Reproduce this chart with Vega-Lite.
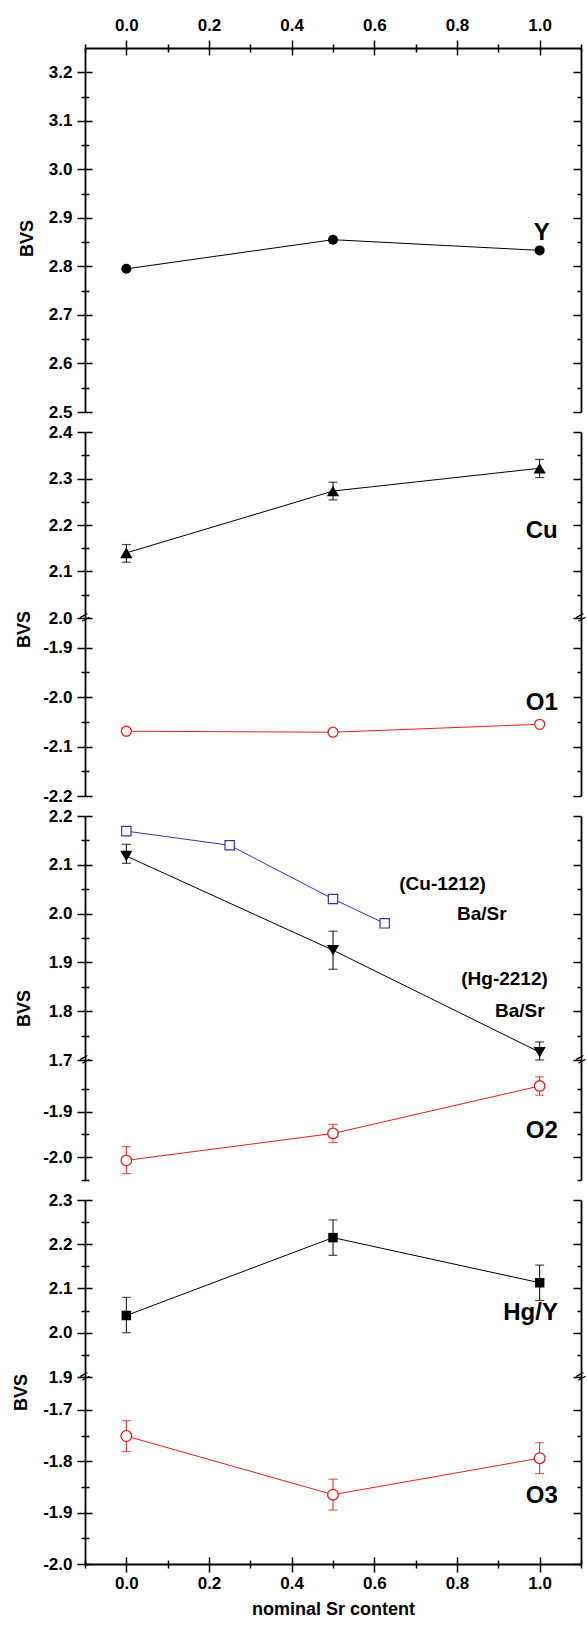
{
"$schema": "https://vega.github.io/schema/vega-lite/v6.json",
"padding": {"left": 12, "top": 16, "right": 0, "bottom": 0},
"background": "white",
"datasets": {
 "Y": [{"x":0,"y":2.795},{"x":0.5,"y":2.855},{"x":1,"y":2.833}],
 "Cu": [{"x":0,"y":2.14,"lo":2.12,"hi":2.158},{"x":0.5,"y":2.273,"lo":2.254,"hi":2.292},{"x":1,"y":2.322,"lo":2.302,"hi":2.341}],
 "O1": [{"x":0,"y":-2.069,"lo":-2.075,"hi":-2.063},{"x":0.5,"y":-2.071,"lo":-2.077,"hi":-2.065},{"x":1,"y":-2.055,"lo":-2.061,"hi":-2.049}],
 "Hg2212": [{"x":0,"y":2.118,"lo":2.103,"hi":2.142},{"x":0.5,"y":1.925,"lo":1.886,"hi":1.964},{"x":1,"y":1.716,"lo":1.7,"hi":1.737}],
 "Cu1212": [{"x":0,"y":2.169},{"x":0.25,"y":2.14},{"x":0.5,"y":2.03},{"x":0.625,"y":1.98}],
 "O2": [{"x":0,"y":-2.007,"lo":-2.036,"hi":-1.977},{"x":0.5,"y":-1.948,"lo":-1.968,"hi":-1.928},{"x":1,"y":-1.844,"lo":-1.864,"hi":-1.824}],
 "HgY": [{"x":0,"y":2.039,"lo":2.0,"hi":2.08},{"x":0.5,"y":2.215,"lo":2.175,"hi":2.255},{"x":1,"y":2.113,"lo":2.073,"hi":2.153}],
 "O3": [{"x":0,"y":-1.751,"lo":-1.781,"hi":-1.721},{"x":0.5,"y":-1.865,"lo":-1.895,"hi":-1.835},{"x":1,"y":-1.794,"lo":-1.824,"hi":-1.764}]
},
"spacing": 0,
"bounds": "flush",
"vconcat": [
 {
  "width": 496, "height": 364,
  "data": {"name": "Y"},
  "encoding": {
   "x": {"field": "x", "type": "quantitative", "scale": {"domain": [-0.1, 1.1], "nice": false, "zero": false}, "axis": null},
   "y": {"field": "y", "type": "quantitative", "scale": {"domain": [2.5, 3.25], "nice": false, "zero": false}, "axis": null}
  },
  "layer": [
   {"layer": [
     {"mark": {"type": "line", "color": "black", "strokeWidth": 1}},
     {"mark": {"type": "point", "shape": "circle", "filled": true, "color": "black", "size": 100, "opacity": 1}},
     {"data": {"values": [{"x": 1.005, "y": 2.868, "t": "Y"}]}, "mark": {"type": "text", "fontSize": 24, "color": "black"}, "encoding": {"text": {"field": "t"}}}
    ]},
   {"mark": {"type": "point", "opacity": 0}, "encoding": {
     "x": {"field": "x", "type": "quantitative", "scale": {"domain": [-0.1, 1.1], "nice": false, "zero": false},
           "axis": {"orient": "top", "values": [-0.1,0,0.1,0.2,0.3,0.4,0.5,0.6,0.7,0.8,0.9,1.0,1.1], "tickSize": {"condition": {"test": "round(datum.value*10)%2!=0", "value": 4}, "value": 8}, "labelExpr": "round(datum.value*10)%2!=0 ? '' : format(datum.value,'.1f')", "labelPadding": 6, "title": null}},
     "y": {"field": "y", "type": "quantitative", "scale": {"domain": [2.5, 3.25], "nice": false, "zero": false},
           "axis": {"orient": "left", "values": [2.5,2.55,2.6,2.65,2.7,2.75,2.8,2.85,2.9,2.95,3.0,3.05,3.1,3.15,3.2], "tickSize": {"condition": {"test": "round(datum.value*100)%10!=0", "value": 4}, "value": 8}, "labelExpr": "round(datum.value*100)%10!=0 ? '' : (datum.value<0 ? '-' : '') + format(abs(datum.value),'.1f')", "labelPadding": 5,
                    "title": "BVS", "titleX": -53, "titleY": 190, "titleBaseline": "alphabetic", "titleAngle": -90, "titleAlign": "center", "titleFontSize": 18}}}},
   {"mark": {"type": "point", "opacity": 0}, "encoding": {
     "x": {"field": "x", "type": "quantitative", "scale": {"domain": [-0.1, 1.1], "nice": false, "zero": false},
           "axis": {"orient": "top", "values": [-0.1,0,0.1,0.2,0.3,0.4,0.5,0.6,0.7,0.8,0.9,1.0,1.1], "tickSize": {"condition": {"test": "round(datum.value*10)%2!=0", "value": -4}, "value": -7}, "labels": false, "domain": false, "title": null}},
     "y": {"field": "y", "type": "quantitative", "scale": {"domain": [2.5, 3.25], "nice": false, "zero": false},
           "axis": {"orient": "left", "values": [2.5,2.55,2.6,2.65,2.7,2.75,2.8,2.85,2.9,2.95,3.0,3.05,3.1,3.15,3.2], "tickSize": {"condition": {"test": "round(datum.value*100)%10!=0", "value": -4}, "value": -7}, "labels": false, "domain": false, "title": null}}}},
   {"mark": {"type": "point", "opacity": 0}, "encoding": {
     "y": {"field": "y", "type": "quantitative", "scale": {"domain": [2.5, 3.25], "nice": false, "zero": false},
           "axis": {"orient": "right", "values": [2.5,2.55,2.6,2.65,2.7,2.75,2.8,2.85,2.9,2.95,3.0,3.05,3.1,3.15,3.2], "tickSize": {"condition": {"test": "round(datum.value*100)%10!=0", "value": -4}, "value": -8}, "labels": false, "title": null}}}}
  ],
  "resolve": {"axis": {"x": "independent", "y": "independent"}}
 },
 {"width": 496, "height": 20, "data": {"name": "Y"}, "mark": {"type": "point", "opacity": 0},
  "encoding": {"x": {"field": "x", "type": "quantitative", "axis": null}, "y": {"field": "y", "type": "quantitative", "axis": null}}},
 {
  "width": 496, "height": 186,
  "data": {"name": "Cu"},
  "encoding": {
   "x": {"field": "x", "type": "quantitative", "scale": {"domain": [-0.1, 1.1], "nice": false, "zero": false}, "axis": null},
   "y": {"field": "y", "type": "quantitative", "scale": {"domain": [2.0, 2.4], "nice": false, "zero": false}, "axis": null}
  },
  "layer": [
   {"layer": [
     {"mark": {"type": "line", "color": "black", "strokeWidth": 1}},
     {"mark": {"type": "rule", "color": "black", "strokeWidth": 1}, "encoding": {"y": {"field": "lo", "type": "quantitative", "axis": null}, "y2": {"field": "hi"}}},
     {"mark": {"type": "tick", "orient": "horizontal", "color": "black", "size": 9, "thickness": 1.2}, "encoding": {"y": {"field": "lo", "type": "quantitative", "axis": null}}},
     {"mark": {"type": "tick", "orient": "horizontal", "color": "black", "size": 9, "thickness": 1.2}, "encoding": {"y": {"field": "hi", "type": "quantitative", "axis": null}}},
     {"mark": {"type": "point", "shape": "triangle-up", "filled": true, "color": "black", "size": 150, "opacity": 1}},
     {"data": {"values": [{"x": 1.005, "y": 2.187, "t": "Cu"}]}, "mark": {"type": "text", "fontSize": 24, "color": "black"}, "encoding": {"text": {"field": "t"}}},
     {"data": {"values": [{"x": -0.1, "y": 2.0, "t": "="}, {"x": 1.1, "y": 2.0, "t": "="}]}, "mark": {"type": "text", "fontSize": 17, "angle": -30, "color": "black", "fontWeight": "normal"}, "encoding": {"text": {"field": "t"}}}
    ]},
   {"mark": {"type": "point", "opacity": 0}, "encoding": {
     "y": {"field": "y", "type": "quantitative", "scale": {"domain": [2.0, 2.4], "nice": false, "zero": false},
           "axis": {"orient": "left", "values": [2.0,2.05,2.1,2.15,2.2,2.25,2.3,2.35,2.4], "tickSize": {"condition": {"test": "round(datum.value*100)%10!=0", "value": 4}, "value": 8}, "labelExpr": "round(datum.value*100)%10!=0 ? '' : (datum.value<0 ? '-' : '') + format(abs(datum.value),'.1f')", "labelPadding": 5,
                    "title": "BVS", "titleX": -56, "titleY": 197, "titleBaseline": "alphabetic", "titleAngle": -90, "titleAlign": "center", "titleFontSize": 18}}}},
   {"mark": {"type": "point", "opacity": 0}, "encoding": {
     "y": {"field": "y", "type": "quantitative", "scale": {"domain": [2.0, 2.4], "nice": false, "zero": false},
           "axis": {"orient": "left", "values": [2.0,2.05,2.1,2.15,2.2,2.25,2.3,2.35,2.4], "tickSize": {"condition": {"test": "round(datum.value*100)%10!=0", "value": -4}, "value": -7}, "labels": false, "domain": false, "title": null}}}},
   {"mark": {"type": "point", "opacity": 0}, "encoding": {
     "y": {"field": "y", "type": "quantitative", "scale": {"domain": [2.0, 2.4], "nice": false, "zero": false},
           "axis": {"orient": "right", "values": [2.0,2.05,2.1,2.15,2.2,2.25,2.3,2.35,2.4], "tickSize": {"condition": {"test": "round(datum.value*100)%10!=0", "value": -4}, "value": -8}, "labels": false, "title": null}}}}
  ],
  "resolve": {"axis": {"x": "independent", "y": "independent"}}
 },
 {
  "width": 496, "height": 178,
  "data": {"name": "O1"},
  "encoding": {
   "x": {"field": "x", "type": "quantitative", "scale": {"domain": [-0.1, 1.1], "nice": false, "zero": false}, "axis": null},
   "y": {"field": "y", "type": "quantitative", "scale": {"domain": [-2.2, -1.84], "nice": false, "zero": false}, "axis": null}
  },
  "layer": [
   {"layer": [
     {"mark": {"type": "line", "color": "#f01818", "strokeWidth": 1}},
     {"mark": {"type": "rule", "color": "#f01818", "strokeWidth": 1}, "encoding": {"y": {"field": "lo", "type": "quantitative", "axis": null}, "y2": {"field": "hi"}}},
     {"mark": {"type": "point", "shape": "circle", "filled": true, "fill": "white", "stroke": "#f01818", "strokeWidth": 1.3, "size": 100, "opacity": 1}},
     {"data": {"values": [{"x": 1.005, "y": -2.011, "t": "O1"}]}, "mark": {"type": "text", "fontSize": 24, "color": "black"}, "encoding": {"text": {"field": "t"}}}
    ]},
   {"mark": {"type": "point", "opacity": 0}, "encoding": {
     "y": {"field": "y", "type": "quantitative", "scale": {"domain": [-2.2, -1.84], "nice": false, "zero": false},
           "axis": {"orient": "left", "values": [-2.2,-2.15,-2.1,-2.05,-2.0,-1.95,-1.9], "tickSize": {"condition": {"test": "round(datum.value*100)%10!=0", "value": 4}, "value": 8}, "labelExpr": "round(datum.value*100)%10!=0 ? '' : (datum.value<0 ? '-' : '') + format(abs(datum.value),'.1f')", "labelPadding": 5, "title": null}}}},
   {"mark": {"type": "point", "opacity": 0}, "encoding": {
     "y": {"field": "y", "type": "quantitative", "scale": {"domain": [-2.2, -1.84], "nice": false, "zero": false},
           "axis": {"orient": "left", "values": [-2.2,-2.15,-2.1,-2.05,-2.0,-1.95,-1.9], "tickSize": {"condition": {"test": "round(datum.value*100)%10!=0", "value": -4}, "value": -7}, "labels": false, "domain": false, "title": null}}}},
   {"mark": {"type": "point", "opacity": 0}, "encoding": {
     "y": {"field": "y", "type": "quantitative", "scale": {"domain": [-2.2, -1.84], "nice": false, "zero": false},
           "axis": {"orient": "right", "values": [-2.2,-2.15,-2.1,-2.05,-2.0,-1.95,-1.9], "tickSize": {"condition": {"test": "round(datum.value*100)%10!=0", "value": -4}, "value": -8}, "labels": false, "title": null}}}}
  ],
  "resolve": {"axis": {"x": "independent", "y": "independent"}}
 },
 {"width": 496, "height": 20, "data": {"name": "Y"}, "mark": {"type": "point", "opacity": 0},
  "encoding": {"x": {"field": "x", "type": "quantitative", "axis": null}, "y": {"field": "y", "type": "quantitative", "axis": null}}},
 {
  "width": 496, "height": 244,
  "data": {"name": "Hg2212"},
  "encoding": {
   "x": {"field": "x", "type": "quantitative", "scale": {"domain": [-0.1, 1.1], "nice": false, "zero": false}, "axis": null},
   "y": {"field": "y", "type": "quantitative", "scale": {"domain": [1.7, 2.2], "nice": false, "zero": false}, "axis": null}
  },
  "layer": [
   {"layer": [
     {"data": {"name": "Cu1212"}, "mark": {"type": "line", "color": "#3535a5", "strokeWidth": 1}},
     {"data": {"name": "Cu1212"}, "mark": {"type": "point", "shape": "square", "filled": true, "fill": "white", "stroke": "#3535a5", "strokeWidth": 1.2, "size": 87, "opacity": 1}},
     {"mark": {"type": "line", "color": "black", "strokeWidth": 1}},
     {"mark": {"type": "rule", "color": "black", "strokeWidth": 1}, "encoding": {"y": {"field": "lo", "type": "quantitative", "axis": null}, "y2": {"field": "hi"}}},
     {"mark": {"type": "tick", "orient": "horizontal", "color": "black", "size": 9, "thickness": 1.2}, "encoding": {"y": {"field": "lo", "type": "quantitative", "axis": null}}},
     {"mark": {"type": "tick", "orient": "horizontal", "color": "black", "size": 9, "thickness": 1.2}, "encoding": {"y": {"field": "hi", "type": "quantitative", "axis": null}}},
     {"mark": {"type": "point", "shape": "triangle-down", "filled": true, "color": "black", "size": 150, "opacity": 1}},
     {"data": {"values": [{"x": 0.765, "y": 2.06, "t": "(Cu-1212)"}, {"x": 0.86, "y": 2.0, "t": "Ba/Sr"}, {"x": 0.915, "y": 1.866, "t": "(Hg-2212)"}, {"x": 0.952, "y": 1.80, "t": "Ba/Sr"}]}, "mark": {"type": "text", "fontSize": 19, "color": "black"}, "encoding": {"text": {"field": "t"}}},
     {"data": {"values": [{"x": -0.1, "y": 1.7, "t": "="}, {"x": 1.1, "y": 1.7, "t": "="}]}, "mark": {"type": "text", "fontSize": 17, "angle": -30, "color": "black", "fontWeight": "normal"}, "encoding": {"text": {"field": "t"}}}
    ]},
   {"mark": {"type": "point", "opacity": 0}, "encoding": {
     "y": {"field": "y", "type": "quantitative", "scale": {"domain": [1.7, 2.2], "nice": false, "zero": false},
           "axis": {"orient": "left", "values": [1.7,1.75,1.8,1.85,1.9,1.95,2.0,2.05,2.1,2.15,2.2], "tickSize": {"condition": {"test": "round(datum.value*100)%10!=0", "value": 4}, "value": 8}, "labelExpr": "round(datum.value*100)%10!=0 ? '' : (datum.value<0 ? '-' : '') + format(abs(datum.value),'.1f')", "labelPadding": 5,
                    "title": "BVS", "titleX": -56, "titleY": 192, "titleBaseline": "alphabetic", "titleAngle": -90, "titleAlign": "center", "titleFontSize": 18}}}},
   {"mark": {"type": "point", "opacity": 0}, "encoding": {
     "y": {"field": "y", "type": "quantitative", "scale": {"domain": [1.7, 2.2], "nice": false, "zero": false},
           "axis": {"orient": "left", "values": [1.7,1.75,1.8,1.85,1.9,1.95,2.0,2.05,2.1,2.15,2.2], "tickSize": {"condition": {"test": "round(datum.value*100)%10!=0", "value": -4}, "value": -7}, "labels": false, "domain": false, "title": null}}}},
   {"mark": {"type": "point", "opacity": 0}, "encoding": {
     "y": {"field": "y", "type": "quantitative", "scale": {"domain": [1.7, 2.2], "nice": false, "zero": false},
           "axis": {"orient": "right", "values": [1.7,1.75,1.8,1.85,1.9,1.95,2.0,2.05,2.1,2.15,2.2], "tickSize": {"condition": {"test": "round(datum.value*100)%10!=0", "value": -4}, "value": -8}, "labels": false, "title": null}}}}
  ],
  "resolve": {"axis": {"x": "independent", "y": "independent"}}
 },
 {
  "width": 496, "height": 120,
  "data": {"name": "O2"},
  "encoding": {
   "x": {"field": "x", "type": "quantitative", "scale": {"domain": [-0.1, 1.1], "nice": false, "zero": false}, "axis": null},
   "y": {"field": "y", "type": "quantitative", "scale": {"domain": [-2.05, -1.787], "nice": false, "zero": false}, "axis": null}
  },
  "layer": [
   {"layer": [
     {"mark": {"type": "line", "color": "#f01818", "strokeWidth": 1}},
     {"mark": {"type": "rule", "color": "#f01818", "strokeWidth": 1}, "encoding": {"y": {"field": "lo", "type": "quantitative", "axis": null}, "y2": {"field": "hi"}}},
     {"mark": {"type": "tick", "orient": "horizontal", "color": "#f01818", "size": 9, "thickness": 1.2}, "encoding": {"y": {"field": "lo", "type": "quantitative", "axis": null}}},
     {"mark": {"type": "tick", "orient": "horizontal", "color": "#f01818", "size": 9, "thickness": 1.2}, "encoding": {"y": {"field": "hi", "type": "quantitative", "axis": null}}},
     {"mark": {"type": "point", "shape": "circle", "filled": true, "fill": "white", "stroke": "#f01818", "strokeWidth": 1.3, "size": 110, "opacity": 1}},
     {"data": {"values": [{"x": 1.005, "y": -1.943, "t": "O2"}]}, "mark": {"type": "text", "fontSize": 24, "color": "black"}, "encoding": {"text": {"field": "t"}}}
    ]},
   {"mark": {"type": "point", "opacity": 0}, "encoding": {
     "y": {"field": "y", "type": "quantitative", "scale": {"domain": [-2.05, -1.787], "nice": false, "zero": false},
           "axis": {"orient": "left", "values": [-2.05,-2.0,-1.95,-1.9,-1.85], "tickSize": {"condition": {"test": "round(datum.value*100)%10!=0", "value": 4}, "value": 8}, "labelExpr": "round(datum.value*100)%10!=0 ? '' : (datum.value<0 ? '-' : '') + format(abs(datum.value),'.1f')", "labelPadding": 5, "title": null}}}},
   {"mark": {"type": "point", "opacity": 0}, "encoding": {
     "y": {"field": "y", "type": "quantitative", "scale": {"domain": [-2.05, -1.787], "nice": false, "zero": false},
           "axis": {"orient": "left", "values": [-2.05,-2.0,-1.95,-1.9,-1.85], "tickSize": {"condition": {"test": "round(datum.value*100)%10!=0", "value": -4}, "value": -7}, "labels": false, "domain": false, "title": null}}}},
   {"mark": {"type": "point", "opacity": 0}, "encoding": {
     "y": {"field": "y", "type": "quantitative", "scale": {"domain": [-2.05, -1.787], "nice": false, "zero": false},
           "axis": {"orient": "right", "values": [-2.05,-2.0,-1.95,-1.9,-1.85], "tickSize": {"condition": {"test": "round(datum.value*100)%10!=0", "value": -4}, "value": -8}, "labels": false, "title": null}}}}
  ],
  "resolve": {"axis": {"x": "independent", "y": "independent"}}
 },
 {"width": 496, "height": 20, "data": {"name": "Y"}, "mark": {"type": "point", "opacity": 0},
  "encoding": {"x": {"field": "x", "type": "quantitative", "axis": null}, "y": {"field": "y", "type": "quantitative", "axis": null}}},
 {
  "width": 496, "height": 177,
  "data": {"name": "HgY"},
  "encoding": {
   "x": {"field": "x", "type": "quantitative", "scale": {"domain": [-0.1, 1.1], "nice": false, "zero": false}, "axis": null},
   "y": {"field": "y", "type": "quantitative", "scale": {"domain": [1.9, 2.3], "nice": false, "zero": false}, "axis": null}
  },
  "layer": [
   {"layer": [
     {"mark": {"type": "line", "color": "black", "strokeWidth": 1}},
     {"mark": {"type": "rule", "color": "black", "strokeWidth": 1}, "encoding": {"y": {"field": "lo", "type": "quantitative", "axis": null}, "y2": {"field": "hi"}}},
     {"mark": {"type": "tick", "orient": "horizontal", "color": "black", "size": 9, "thickness": 1.2}, "encoding": {"y": {"field": "lo", "type": "quantitative", "axis": null}}},
     {"mark": {"type": "tick", "orient": "horizontal", "color": "black", "size": 9, "thickness": 1.2}, "encoding": {"y": {"field": "hi", "type": "quantitative", "axis": null}}},
     {"mark": {"type": "point", "shape": "square", "filled": true, "color": "black", "size": 90, "opacity": 1}},
     {"data": {"values": [{"x": 0.978, "y": 2.044, "t": "Hg/Y"}]}, "mark": {"type": "text", "fontSize": 24, "color": "black"}, "encoding": {"text": {"field": "t"}}},
     {"data": {"values": [{"x": -0.1, "y": 1.9, "t": "="}, {"x": 1.1, "y": 1.9, "t": "="}]}, "mark": {"type": "text", "fontSize": 17, "angle": -30, "color": "black", "fontWeight": "normal"}, "encoding": {"text": {"field": "t"}}}
    ]},
   {"mark": {"type": "point", "opacity": 0}, "encoding": {
     "y": {"field": "y", "type": "quantitative", "scale": {"domain": [1.9, 2.3], "nice": false, "zero": false},
           "axis": {"orient": "left", "values": [1.9,1.95,2.0,2.05,2.1,2.15,2.2,2.25,2.3], "tickSize": {"condition": {"test": "round(datum.value*100)%10!=0", "value": 4}, "value": 8}, "labelExpr": "round(datum.value*100)%10!=0 ? '' : (datum.value<0 ? '-' : '') + format(abs(datum.value),'.1f')", "labelPadding": 5,
                    "title": "BVS", "titleX": -59, "titleY": 192, "titleBaseline": "alphabetic", "titleAngle": -90, "titleAlign": "center", "titleFontSize": 18}}}},
   {"mark": {"type": "point", "opacity": 0}, "encoding": {
     "y": {"field": "y", "type": "quantitative", "scale": {"domain": [1.9, 2.3], "nice": false, "zero": false},
           "axis": {"orient": "left", "values": [1.9,1.95,2.0,2.05,2.1,2.15,2.2,2.25,2.3], "tickSize": {"condition": {"test": "round(datum.value*100)%10!=0", "value": -4}, "value": -7}, "labels": false, "domain": false, "title": null}}}},
   {"mark": {"type": "point", "opacity": 0}, "encoding": {
     "y": {"field": "y", "type": "quantitative", "scale": {"domain": [1.9, 2.3], "nice": false, "zero": false},
           "axis": {"orient": "right", "values": [1.9,1.95,2.0,2.05,2.1,2.15,2.2,2.25,2.3], "tickSize": {"condition": {"test": "round(datum.value*100)%10!=0", "value": -4}, "value": -8}, "labels": false, "title": null}}}}
  ],
  "resolve": {"axis": {"x": "independent", "y": "independent"}}
 },
 {
  "width": 496, "height": 187,
  "data": {"name": "O3"},
  "encoding": {
   "x": {"field": "x", "type": "quantitative", "scale": {"domain": [-0.1, 1.1], "nice": false, "zero": false}, "axis": null},
   "y": {"field": "y", "type": "quantitative", "scale": {"domain": [-2.0, -1.636], "nice": false, "zero": false}, "axis": null}
  },
  "layer": [
   {"layer": [
     {"mark": {"type": "line", "color": "#f01818", "strokeWidth": 1}},
     {"mark": {"type": "rule", "color": "#f01818", "strokeWidth": 1}, "encoding": {"y": {"field": "lo", "type": "quantitative", "axis": null}, "y2": {"field": "hi"}}},
     {"mark": {"type": "tick", "orient": "horizontal", "color": "#f01818", "size": 9, "thickness": 1.2}, "encoding": {"y": {"field": "lo", "type": "quantitative", "axis": null}}},
     {"mark": {"type": "tick", "orient": "horizontal", "color": "#f01818", "size": 9, "thickness": 1.2}, "encoding": {"y": {"field": "hi", "type": "quantitative", "axis": null}}},
     {"mark": {"type": "point", "shape": "circle", "filled": true, "fill": "white", "stroke": "#f01818", "strokeWidth": 1.3, "size": 115, "opacity": 1}},
     {"data": {"values": [{"x": 1.005, "y": -1.867, "t": "O3"}]}, "mark": {"type": "text", "fontSize": 24, "color": "black"}, "encoding": {"text": {"field": "t"}}}
    ]},
   {"mark": {"type": "point", "opacity": 0}, "encoding": {
     "x": {"field": "x", "type": "quantitative", "scale": {"domain": [-0.1, 1.1], "nice": false, "zero": false},
           "axis": {"orient": "bottom", "values": [-0.1,0,0.1,0.2,0.3,0.4,0.5,0.6,0.7,0.8,0.9,1.0,1.1], "tickSize": {"condition": {"test": "round(datum.value*10)%2!=0", "value": 4}, "value": 8}, "labelExpr": "round(datum.value*10)%2!=0 ? '' : format(datum.value,'.1f')", "labelPadding": 3, "title": "nominal Sr content", "titlePadding": 9, "titleFontSize": 18}},
     "y": {"field": "y", "type": "quantitative", "scale": {"domain": [-2.0, -1.636], "nice": false, "zero": false},
           "axis": {"orient": "left", "values": [-2.0,-1.95,-1.9,-1.85,-1.8,-1.75,-1.7], "tickSize": {"condition": {"test": "round(datum.value*100)%10!=0", "value": 4}, "value": 8}, "labelExpr": "round(datum.value*100)%10!=0 ? '' : (datum.value<0 ? '-' : '') + format(abs(datum.value),'.1f')", "labelPadding": 5, "title": null}}}},
   {"mark": {"type": "point", "opacity": 0}, "encoding": {
     "x": {"field": "x", "type": "quantitative", "scale": {"domain": [-0.1, 1.1], "nice": false, "zero": false},
           "axis": {"orient": "bottom", "values": [-0.1,0,0.1,0.2,0.3,0.4,0.5,0.6,0.7,0.8,0.9,1.0,1.1], "tickSize": {"condition": {"test": "round(datum.value*10)%2!=0", "value": -4}, "value": -7}, "labels": false, "domain": false, "title": null}},
     "y": {"field": "y", "type": "quantitative", "scale": {"domain": [-2.0, -1.636], "nice": false, "zero": false},
           "axis": {"orient": "left", "values": [-2.0,-1.95,-1.9,-1.85,-1.8,-1.75,-1.7], "tickSize": {"condition": {"test": "round(datum.value*100)%10!=0", "value": -4}, "value": -7}, "labels": false, "domain": false, "title": null}}}},
   {"mark": {"type": "point", "opacity": 0}, "encoding": {
     "y": {"field": "y", "type": "quantitative", "scale": {"domain": [-2.0, -1.636], "nice": false, "zero": false},
           "axis": {"orient": "right", "values": [-2.0,-1.95,-1.9,-1.85,-1.8,-1.75,-1.7], "tickSize": {"condition": {"test": "round(datum.value*100)%10!=0", "value": -4}, "value": -8}, "labels": false, "title": null}}}}
  ],
  "resolve": {"axis": {"x": "independent", "y": "independent"}}
 }
],
"config": {
 "view": {"stroke": null},
 "axis": {"grid": false, "domainColor": "black", "domainWidth": 1.8, "tickColor": "black", "tickWidth": 1.5, "labelColor": "black", "labelFont": "Liberation Sans", "labelFontWeight": "bold", "labelFontSize": 17, "labelOverlap": false, "labelFlush": false, "labelBound": false, "titleFont": "Liberation Sans", "titleFontWeight": "bold", "titleFontSize": 16, "titleColor": "black"},
 "text": {"font": "Liberation Sans", "fontWeight": "bold"}
}
}
